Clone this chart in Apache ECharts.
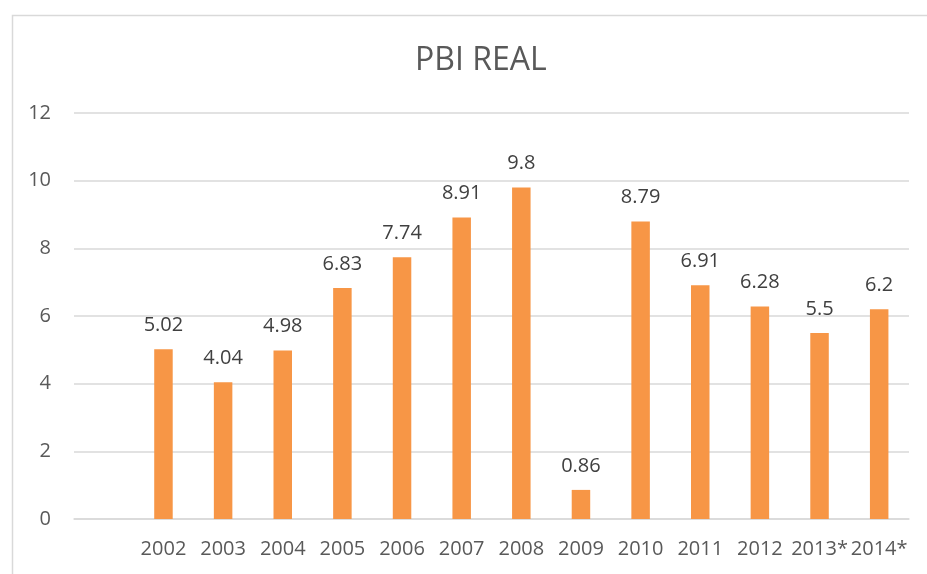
<!DOCTYPE html>
<html>
<head>
<meta charset="utf-8">
<script src="https://cdn.jsdelivr.net/npm/echarts@6/dist/echarts.min.js"></script>
<style>
  html, body { margin: 0; padding: 0; background: #fff; }
  #chart { width: 927px; height: 574px; }
</style>
</head>
<body>
<div id="chart"></div>
<script>
// first slot is left empty in the original chart
const years = ['', '2002', '2003', '2004', '2005', '2006', '2007', '2008', '2009', '2010', '2011', '2012', '2013*', '2014*']
const pbiReal = ['-', 5.02, 4.04, 4.98, 6.83, 7.74, 8.91, 9.8, 0.86, 8.79, 6.91, 6.28, 5.5, 6.2]
const yTicks = { min: 0, max: 12, interval: 2 }

const fontFamily = '"Open Sans", "Liberation Sans", sans-serif'

const chart = echarts.init(document.getElementById('chart'))

chart.setOption({
  backgroundColor: '#fff',
  animation: false,
  graphic: [{
    type: 'rect',
    left: 10,
    top: 13,
    shape: { width: 1000, height: 700 },
    style: { fill: 'none', stroke: '#D9D9D9', lineWidth: 1.5 },
    silent: true
  }],
  title: {
    text: 'PBI REAL',
    left: 410,
    top: 40,
    textStyle: {
      fontFamily,
      fontSize: 32,
      fontWeight: 'normal',
      color: '#595959'
    }
  },
  grid: { left: 74, right: 18, top: 113, bottom: 55 },
  xAxis: {
    type: 'category',
    data: years,
    axisLine: { show: true, lineStyle: { color: '#D9D9D9', width: 1.5 } },
    axisTick: { show: false },
    axisLabel: {
      fontFamily,
      fontSize: 20,
      color: '#595959',
      margin: 20,
      interval: 0
    }
  },
  yAxis: {
    type: 'value',
    min: yTicks.min,
    max: yTicks.max,
    interval: yTicks.interval,
    axisLine: { show: false },
    axisTick: { show: false },
    splitLine: { lineStyle: { color: '#D9D9D9', width: 1.5 } },
    axisLabel: {
      fontFamily,
      fontSize: 20,
      color: '#595959',
      margin: 23
    }
  },
  series: [{
    type: 'bar',
    data: pbiReal,
    barWidth: 18.5,
    itemStyle: { color: '#F79646' },
    label: {
      show: true,
      position: 'top',
      distance: 14,
      fontFamily,
      fontSize: 20,
      color: '#404040'
    }
  }]
})
</script>
</body>
</html>
